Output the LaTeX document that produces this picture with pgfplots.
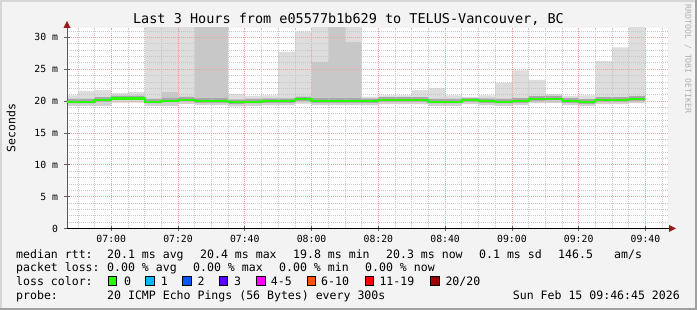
\documentclass[border=0pt]{standalone}
\usepackage{fontspec}
\setmainfont{DejaVu Sans Mono}
\setmonofont{DejaVu Sans Mono}
\usepackage{pgfplots}
\pgfplotsset{compat=1.18}
\usepackage{pgfplotstable}
\definecolor{bg}{HTML}{F3F3F3}
\definecolor{bordlight}{HTML}{D6D6D6}
\definecolor{borddark}{HTML}{A0A0A0}
\definecolor{majgrid}{HTML}{F2A0A0}
\definecolor{mingrid}{HTML}{C8C8C8}
\definecolor{sLow}{HTML}{D2D2D2}
\definecolor{sMed}{HTML}{A8A8A8}
\definecolor{sDark}{HTML}{C8C8C8}
\definecolor{sLight}{HTML}{DDDDDD}
\definecolor{lc0}{HTML}{26FF00}
\definecolor{lc1}{HTML}{00B8FF}
\definecolor{lc2}{HTML}{0059FF}
\definecolor{lc3}{HTML}{5E00FF}
\definecolor{lc4}{HTML}{FF00FF}
\definecolor{lc6}{HTML}{FF5500}
\definecolor{lc11}{HTML}{FF0000}
\definecolor{lc20}{HTML}{A10000}
\definecolor{arrowred}{HTML}{9A1A1A}
\definecolor{wm}{HTML}{B0B0B0}

\pgfplotstableread{
t      lo     l2     u2     u1     hi     m
-13.25 19.25  19.60  20.35  20.35  20.90  19.90
-10    19.25  19.60  20.35  20.35  21.60  19.90
-5     19.20  19.85  20.60  20.60  21.70  20.15
0      19.75  20.10  20.85  20.85  21.25  20.40
5      19.75  20.10  20.85  20.85  21.40  20.40
10     19.25  19.60  20.35  20.35  32.00  19.90
15     19.20  19.75  20.50  21.40  32.00  20.05
20     19.55  19.90  20.65  20.65  32.00  20.20
25     19.35  19.70  20.45  32.00  32.00  20.00
30     19.35  19.70  20.45  32.00  32.00  20.00
35     19.15  19.50  20.25  20.25  21.10  19.80
40     19.25  19.60  20.35  20.35  20.80  19.90
45     19.30  19.65  20.40  20.40  20.90  19.95
50     19.30  19.65  20.40  20.40  27.70  19.95
55     19.60  19.95  20.70  20.70  30.90  20.25
60     19.35  19.70  20.45  26.10  32.00  20.00
65     19.35  19.70  20.45  32.00  32.00  20.00
70     19.35  19.70  20.45  29.30  32.00  20.00
75     19.30  19.65  20.40  20.40  20.70  19.95
80     19.50  19.85  20.60  20.60  20.90  20.15
85     19.50  19.85  20.60  20.60  20.90  20.15
90     19.50  19.85  20.60  20.60  21.70  20.15
95     19.25  19.60  20.35  20.35  22.00  19.90
100    19.25  19.60  20.35  20.35  20.90  19.90
105    19.50  19.85  20.50  20.50  20.55  20.15
110    19.30  19.65  20.40  20.40  20.90  19.95
115    19.25  19.60  20.35  20.35  22.90  19.90
120    19.35  19.70  20.45  20.45  24.80  20.00
125    19.65  20.00  20.75  20.75  23.30  20.30
130    19.70  20.05  20.80  20.80  21.10  20.35
135    19.35  19.70  20.45  20.45  20.80  20.00
140    19.20  19.55  20.30  20.30  20.90  19.85
145    19.50  19.85  20.60  20.60  26.25  20.15
150    19.50  19.85  20.60  20.60  28.40  20.15
155    19.65  20.00  20.75  20.75  32.00  20.30
160    19.65  20.00  20.75  20.75  32.00  20.30
}\smoke

\begin{document}
\begin{tikzpicture}[x=1pt,y=1pt]
\fill[bg] (0,0) rectangle (697,310);
\fill[bordlight] (0,308) rectangle (697,310);
\fill[bordlight] (0,0) rectangle (2,310);
\fill[borddark] (0,0) rectangle (697,2);
\fill[borddark] (695,0) rectangle (697,310);

\begin{axis}[
  at={(67pt,81.5pt)}, anchor=south west, scale only axis,
  width=601pt, height=200.5pt,
  xmin=-13.25, xmax=166.75, ymin=0, ymax=31.45,
  axis on top,
  axis background/.style={fill=white},
  axis x line*=bottom, axis y line*=left,
  x axis line style={black, line width=0.8pt},
  y axis line style={black!65, line width=0.8pt},
  xtick={0,20,...,160},
  xticklabels={07:00,07:20,07:40,08:00,08:20,08:40,09:00,09:20,09:40},
  minor xtick={-10,-5,...,165},
  ytick={0,5,...,30},
  yticklabels={0,{5 m},{10 m},{15 m},{20 m},{25 m},{30 m}},
  minor ytick={1,...,31},
  grid=both,
  major grid style={draw=majgrid, dash pattern=on 1pt off 1pt, line width=0.7pt},
  minor grid style={draw=mingrid, dash pattern=on 1pt off 1pt, line width=0.7pt},
  tick align=center, major tick length=5pt, minor tick length=0pt,
  tick style={black!60, line width=0.6pt},
  ticklabel style={font=\fontsize{9.8}{10}\selectfont},
  xticklabel style={anchor=base, yshift=-12pt},
  yticklabel style={xshift=-3pt},
  stack plots=y,
]
\addplot[draw=none, const plot mark left] table[x=t, y=lo] {\smoke};
\addplot[fill=sLow, draw=none, const plot mark left] table[x=t, y expr=\thisrow{l2}-\thisrow{lo}] {\smoke} \closedcycle;
\addplot[fill=sMed, draw=none, const plot mark left] table[x=t, y expr=\thisrow{u2}-\thisrow{l2}] {\smoke} \closedcycle;
\addplot[fill=sDark, draw=none, const plot mark left] table[x=t, y expr=\thisrow{u1}-\thisrow{u2}] {\smoke} \closedcycle;
\addplot[fill=sLight, draw=none, const plot mark left] table[x=t, y expr=\thisrow{hi}-\thisrow{u1}] {\smoke} \closedcycle;
\end{axis}

% median line, overlay axis with identical geometry
\begin{axis}[
  at={(67pt,81.5pt)}, anchor=south west, scale only axis,
  width=601pt, height=200.5pt,
  xmin=-13.25, xmax=166.75, ymin=0, ymax=31.45,
  hide axis, clip=true,
]
\addplot[draw=lc0, line width=2.2pt, const plot mark left, mark=none] table[x=t, y=m] {\smoke};
\end{axis}

% axis arrows
\fill[arrowred] (63.5,282) -- (70.5,282) -- (67,289) -- cycle;
\draw[black, line width=0.8pt] (668,81.5) -- (670,81.5);
\fill[arrowred] (669,78) -- (669,85) -- (676,81.5) -- cycle;

% title
\node[font=\fontsize{13.5}{14}\selectfont] at (348.5,291) {Last 3 Hours from e05577b1b629 to TELUS-Vancouver, BC};
% y label
\node[font=\fontsize{11.5}{12}\selectfont, rotate=90] at (11,182) {Seconds};
% watermark
\node[font=\fontsize{8.2}{9}\selectfont, rotate=-90, text=wm] at (688,251) {RRDTOOL / TOBI OETIKER};

% legend
\begin{scope}[every node/.style={font=\fontsize{11.55}{12}\selectfont, inner sep=0pt, anchor=base west}]
\node at (16,51.7) {median rtt:};
\node at (107,51.7) {20.1 ms avg};
\node at (200,51.7) {20.4 ms max};
\node at (293,51.7) {19.8 ms min};
\node at (386,51.7) {20.3 ms now};
\node at (479,51.7) {0.1 ms sd};
\node at (558,51.7) {146.5};
\node at (614,51.7) {am/s};

\node at (16,38.3) {packet loss:};
\node at (107,38.3) {0.00 \% avg};
\node at (193,38.3) {0.00 \% max};
\node at (279,38.3) {0.00 \% min};
\node at (365,38.3) {0.00 \% now};

\node at (16,24.3) {loss color:};
\draw[fill=lc0, line width=0.8pt] (108.3,24.5) rectangle ++(8.5,9);
\node at (124,24.3) {0};
\draw[fill=lc1, line width=0.8pt] (145.7,24.5) rectangle ++(8.5,9);
\node at (160.7,24.3) {1};
\draw[fill=lc2, line width=0.8pt] (182.7,24.5) rectangle ++(8.5,9);
\node at (197.3,24.3) {2};
\draw[fill=lc3, line width=0.8pt] (219.3,24.5) rectangle ++(8.5,9);
\node at (234,24.3) {3};
\draw[fill=lc4, line width=0.8pt] (256.7,24.5) rectangle ++(8.5,9);
\node at (270.7,24.3) {4-5};
\draw[fill=lc6, line width=0.8pt] (307.3,24.5) rectangle ++(8.5,9);
\node at (321,24.3) {6-10};
\draw[fill=lc11, line width=0.8pt] (365.3,24.5) rectangle ++(8.5,9);
\node at (379.3,24.3) {11-19};
\draw[fill=lc20, line width=0.8pt] (430.7,24.5) rectangle ++(8.5,9);
\node at (445.3,24.3) {20/20};

\node at (16,10.3) {probe:};
\node at (107,10.3) {20 ICMP Echo Pings (56 Bytes) every 300s};
\node[anchor=base east] at (680,10.3) {Sun Feb 15 09:46:45 2026};
\end{scope}
\end{tikzpicture}
\end{document}
